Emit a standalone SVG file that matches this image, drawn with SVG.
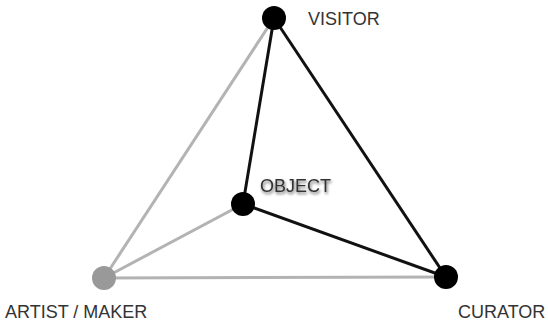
<svg xmlns="http://www.w3.org/2000/svg" width="548" height="326" viewBox="0 0 548 326">
<defs>
<style>
.gray{stroke:#b3b3b3;stroke-width:3;fill:none}
.dark{stroke:#111;stroke-width:3;fill:none}
.lbl{font-family:"Liberation Sans",Arial,sans-serif;font-size:18px;fill:#333}
</style>
<filter id="sh" x="-20%" y="-40%" width="140%" height="180%">
<feGaussianBlur in="SourceAlpha" stdDeviation="1.5"/>
<feOffset dx="1" dy="2" result="b"/>
<feComponentTransfer><feFuncA type="linear" slope="0.6"/></feComponentTransfer>
<feMerge><feMergeNode/><feMergeNode in="SourceGraphic"/></feMerge>
</filter>
</defs>
<rect width="548" height="326" fill="#fff"/>
<g id="connectors">
<line class="gray" x1="274" y1="18" x2="104" y2="278"/>
<line class="gray" x1="243" y1="204" x2="104" y2="278"/>
<line class="gray" x1="104" y1="278" x2="446" y2="277"/>
<line class="dark" x1="274" y1="18" x2="243" y2="204"/>
<line class="dark" x1="274" y1="18" x2="446" y2="277"/>
<line class="dark" x1="243" y1="204" x2="446" y2="277"/>
</g>
<g id="visitor">
<circle cx="274" cy="18" r="12" fill="#000"/>
<text class="lbl" x="308" y="25">VISITOR</text>
</g>
<g id="object">
<circle cx="243" cy="204" r="12" fill="#000"/>
<text class="lbl" x="260" y="192" filter="url(#sh)">OBJECT</text>
</g>
<g id="artist">
<circle cx="104" cy="278" r="12" fill="#999"/>
<text class="lbl" x="5" y="318">ARTIST / MAKER</text>
</g>
<g id="curator">
<circle cx="446" cy="277" r="12" fill="#000"/>
<text class="lbl" x="458" y="318">CURATOR</text>
</g>
</svg>
